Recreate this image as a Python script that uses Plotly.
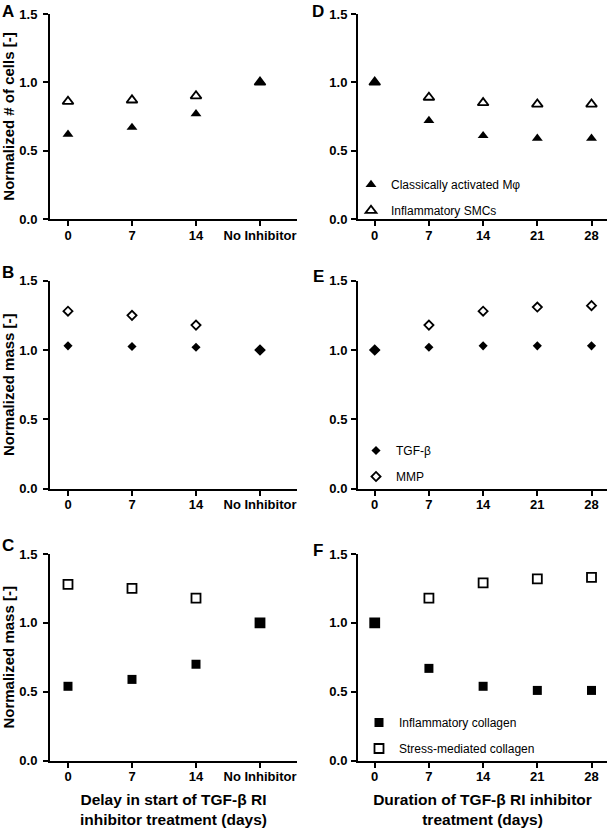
import plotly.graph_objects as go

# ---------------- data ----------------
delay_labels = ["0", "7", "14", "No Inhibitor"]
duration_days = [0, 7, 14, 21, 28]

# Panel A / D : cells
macro_delay = [0.62, 0.67, 0.77, 1.00]
smc_delay = [0.86, 0.87, 0.90, 1.00]
macro_dur = [1.00, 0.72, 0.61, 0.59, 0.59]
smc_dur = [1.00, 0.89, 0.85, 0.84, 0.84]

# Panel B / E : TGF-beta and MMP
tgfb_delay = [1.03, 1.025, 1.02, 1.00]
mmp_delay = [1.28, 1.25, 1.18, 1.00]
tgfb_dur = [1.00, 1.02, 1.03, 1.03, 1.03]
mmp_dur = [1.00, 1.18, 1.28, 1.31, 1.32]

# Panel C / F : collagen
infl_coll_delay = [0.54, 0.59, 0.70, 1.00]
stress_coll_delay = [1.28, 1.25, 1.18, 1.00]
infl_coll_dur = [1.00, 0.67, 0.54, 0.51, 0.51]
stress_coll_dur = [1.00, 1.18, 1.29, 1.32, 1.33]

series_names = {
    "macro": "Classically activated Mφ",
    "smc": "Inflammatory SMCs",
    "tgfb": "TGF-β",
    "mmp": "MMP",
    "infl": "Inflammatory collagen",
    "stress": "Stress-mediated collagen",
}

y_titles = ["Normalized # of cells [-]", "Normalized mass [-]", "Normalized mass [-]"]
x_title_left = "Delay in start of TGF-β RI<br>inhibitor treatment (days)"
x_title_right = "Duration of TGF-β RI inhibitor<br>treatment (days)"
panel_letters = ["A", "B", "C", "D", "E", "F"]

# ---------------- layout helpers ----------------
W, H = 608, 828
FONT = "Liberation Sans, Arial, sans-serif"


def fx(p):
    return p / W


def fy(p):
    return 1 - p / H


left_dom = [fx(50), fx(297)]
right_dom = [fx(358), fx(607)]
rows = [(14, 219), (280.7, 488.7), (554, 760.7)]

fig = go.Figure()


def add(xref, yref, x, y, name, symbol, size, filled, legend=None, show=False, group=None):
    marker = dict(symbol=symbol if filled else symbol + "-open", size=size,
                  color="black", line=dict(color="black", width=0 if filled else 1.8))
    fig.add_trace(go.Scatter(
        x=x, y=y, mode="markers", name=name, marker=marker,
        xaxis=xref, yaxis=yref, showlegend=show,
        legend=legend if legend else "legend", legendgroup=group,
        cliponaxis=False,
    ))


# Left column (delay)
add("x", "y", delay_labels, macro_delay, series_names["macro"], "triangle-up", 9.5, True)
add("x", "y", delay_labels, smc_delay, series_names["smc"], "triangle-up", 9.5, False)
add("x2", "y2", delay_labels, tgfb_delay, series_names["tgfb"], "diamond", 7, True)
add("x2", "y2", delay_labels, mmp_delay, series_names["mmp"], "diamond", 7, False)
add("x3", "y3", delay_labels, infl_coll_delay, series_names["infl"], "square", 9, True)
add("x3", "y3", delay_labels, stress_coll_delay, series_names["stress"], "square", 9, False)

# Right column (duration) with legends
add("x4", "y4", duration_days, macro_dur, series_names["macro"], "triangle-up", 9.5, True, "legend", True, "a1")
add("x4", "y4", duration_days, smc_dur, series_names["smc"], "triangle-up", 9.5, False, "legend", True, "a2")
add("x5", "y5", duration_days, tgfb_dur, series_names["tgfb"], "diamond", 7, True, "legend2", True, "b1")
add("x5", "y5", duration_days, mmp_dur, series_names["mmp"], "diamond", 7, False, "legend2", True, "b2")
add("x6", "y6", duration_days, infl_coll_dur, series_names["infl"], "square", 9, True, "legend3", True, "c1")
add("x6", "y6", duration_days, stress_coll_dur, series_names["stress"], "square", 9, False, "legend3", True, "c2")

tick_font = dict(family=FONT, size=13, color="black", weight="bold")
title_font = dict(family=FONT, size=15.5, color="black", weight="bold")

axis_common = dict(showline=True, linecolor="black", linewidth=2, ticks="outside",
                   ticklen=5, tickwidth=2, tickcolor="black", showgrid=False,
                   zeroline=False, tickfont=tick_font, fixedrange=True, automargin=False)

layout = dict(width=W, height=H, margin=dict(l=0, r=0, t=0, b=0, autoexpand=False),
              paper_bgcolor="white", plot_bgcolor="white",
              font=dict(family=FONT, color="black"))

for i in range(3):
    top, bot = rows[i]
    ydom = [fy(bot), fy(top)]
    # left
    xn = "xaxis" if i == 0 else f"xaxis{i + 1}"
    yn = "yaxis" if i == 0 else f"yaxis{i + 1}"
    ya = "y" if i == 0 else f"y{i + 1}"
    xa = "x" if i == 0 else f"x{i + 1}"
    layout[xn] = dict(axis_common, domain=left_dom, anchor=ya, type="category",
                      categoryorder="array", categoryarray=delay_labels,
                      range=[-0.281, 3.578], ticklabelstandoff=-2)
    layout[yn] = dict(axis_common, domain=ydom, anchor=xa, range=[0, 1.5],
                      tickvals=[0, 0.5, 1.0, 1.5], tickformat=".1f",
                      ticklabelstandoff=3,
                      title=dict(text=y_titles[i], font=dict(title_font, size=15), standoff=11))
    # right
    j = i + 4
    xn2, yn2 = f"xaxis{j}", f"yaxis{j}"
    layout[xn2] = dict(axis_common, domain=right_dom, anchor=f"y{j}", range=[-2.16, 30.0],
                       tickvals=duration_days, ticklabelstandoff=-2)
    layout[yn2] = dict(axis_common, domain=ydom, anchor=f"x{j}", range=[0, 1.5],
                       tickvals=[0, 0.5, 1.0, 1.5], tickformat=".1f",
                       ticklabelstandoff=1)

layout["xaxis3"]["title"] = dict(text=x_title_left, font=title_font, standoff=17)
layout["xaxis6"]["title"] = dict(text=x_title_right, font=title_font, standoff=17)

leg_common = dict(font=dict(family=FONT, size=12, color="black"), bgcolor="rgba(0,0,0,0)",
                  xanchor="left", yanchor="bottom", tracegroupgap=7, itemclick=False,
                  itemdoubleclick=False)
layout["legend"] = dict(leg_common, x=fx(351), y=fy(225))
layout["legend2"] = dict(leg_common, x=fx(356), y=fy(491))
layout["legend3"] = dict(leg_common, x=fx(359), y=fy(763))

ann = []
letter_pos = [(0, -0.5), (0, 261.5), (0, 534), (310, -0.5), (311, 264.5), (311, 538.5)]
for letter, (lx, ly) in zip(panel_letters, letter_pos):
    ann.append(dict(text=letter, x=fx(lx), y=fy(ly), xref="paper", yref="paper",
                    xanchor="left", yanchor="top", showarrow=False,
                    font=dict(family=FONT, size=17, color="black", weight="bold")))
layout["annotations"] = ann

fig.update_layout(**layout)
fig.write_html(
    "out.html",
    config={"displayModeBar": False},
    post_script="document.body.style.margin='0';document.body.style.overflow='hidden';",
)
